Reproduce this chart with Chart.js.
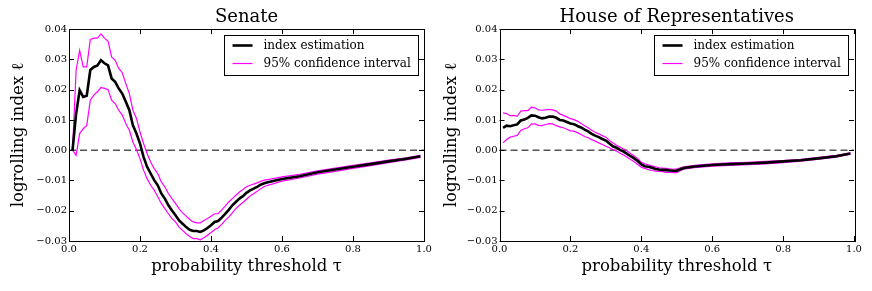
<!DOCTYPE html>
<html><head><meta charset="utf-8">
<title>logrolling index</title>
<script src="https://cdn.jsdelivr.net/npm/chart.js@4.4.7/dist/chart.umd.min.js"></script>
<style>
html,body{margin:0;padding:0;background:#fff}
.row{width:872px;height:291px;display:flex}
.panel{width:436px;height:291px;position:relative}
</style></head><body>
<div class="row">
  <div class="panel"><canvas id="senate" width="436" height="291"></canvas></div>
  <div class="panel"><canvas id="house" width="436" height="291"></canvas></div>
</div>
<script>
// values (probability threshold tau on x)
var X_TICKS = [0.0, 0.2, 0.4, 0.6, 0.8, 1.0];
var Y_TICKS = [-0.03, -0.02, -0.01, 0.00, 0.01, 0.02, 0.03, 0.04];
var LABELS = ['index estimation', '95% confidence interval'];

// Senate
var senateTau = [
  0.01,0.02,0.03,0.04,0.05,0.06,0.07,0.08,0.09,0.10,
  0.11,0.12,0.13,0.14,0.15,0.16,0.17,0.18,0.19,0.20,
  0.21,0.22,0.23,0.24,0.25,0.26,0.27,0.28,0.29,0.30,
  0.31,0.32,0.33,0.34,0.35,0.36,0.37,0.38,0.39,0.40,
  0.41,0.42,0.43,0.44,0.45,0.46,0.47,0.48,0.49,0.50,
  0.51,0.52,0.53,0.54,0.55,0.56,
  0.60,0.65,0.70,0.75,0.80,0.85,0.90,0.95,0.99
];
var senateIndex = [
  0.0, 0.012, 0.0198, 0.0176, 0.018, 0.0265, 0.0275, 0.028, 0.0297, 0.0287,
  0.028, 0.0237, 0.0226, 0.0204, 0.0187, 0.016, 0.0132, 0.0082, 0.0055, 0.0022,
  -0.0022, -0.0055, -0.0077, -0.0099, -0.0116, -0.0143, -0.016, -0.0182, -0.0199, -0.0215,
  -0.0232, -0.0243, -0.0254, -0.0263, -0.0267, -0.0267, -0.027, -0.0265, -0.0257, -0.0248,
  -0.0237, -0.0234, -0.0223, -0.021, -0.0197, -0.0182, -0.0171, -0.016, -0.0152, -0.0141,
  -0.0133, -0.0127, -0.0121, -0.0114, -0.0109, -0.0106,
  -0.0095, -0.0086, -0.0073, -0.0064, -0.0055, -0.0046, -0.0037, -0.0028, -0.002
];
var senateUpper = [
  0.0, 0.0264, 0.033, 0.0275, 0.0275, 0.0366, 0.037, 0.037, 0.0384, 0.037,
  0.036, 0.0308, 0.0297, 0.027, 0.0256, 0.022, 0.0187, 0.0132, 0.0105, 0.006,
  0.0022, -0.0011, -0.0039, -0.0061, -0.0077, -0.0105, -0.0121, -0.0143, -0.016, -0.0176,
  -0.0193, -0.0207, -0.0218, -0.0229, -0.0237, -0.024, -0.024, -0.0232, -0.0226, -0.0218,
  -0.021, -0.021, -0.0197, -0.0185, -0.0171, -0.016, -0.0149, -0.0138, -0.013, -0.0121,
  -0.0116, -0.0112, -0.0108, -0.0103, -0.0099, -0.0097,
  -0.0088, -0.008, -0.0068, -0.0059, -0.005, -0.0042, -0.0033, -0.0025, -0.0017
];
var senateLower = [
  0.0, -0.0017, 0.0055, 0.0071, 0.0082, 0.0165, 0.0182, 0.0193, 0.0207, 0.0204,
  0.02, 0.0165, 0.0154, 0.0132, 0.0116, 0.0088, 0.0066, 0.0027, 0.0002, -0.0028,
  -0.0066, -0.0094, -0.0116, -0.0132, -0.0154, -0.0176, -0.0193, -0.021, -0.0226, -0.0237,
  -0.0254, -0.0265, -0.0276, -0.0285, -0.0292, -0.0292, -0.0296, -0.0289, -0.0281, -0.0272,
  -0.0263, -0.0256, -0.0245, -0.0232, -0.0221, -0.0207, -0.0193, -0.0182, -0.0173, -0.0162,
  -0.0151, -0.0144, -0.0136, -0.0127, -0.012, -0.0116,
  -0.0102, -0.0092, -0.0079, -0.007, -0.006, -0.0051, -0.0041, -0.0032, -0.0024
];

// House of Representatives
var houseTau = [
  0.01,0.02,0.03,0.04,0.05,0.06,0.07,0.08,0.09,0.10,
  0.11,0.12,0.13,0.14,0.15,0.16,0.17,0.18,0.19,0.20,
  0.21,0.22,0.23,0.24,0.25,0.26,0.27,0.28,0.29,0.30,
  0.31,0.32,0.33,0.34,0.35,0.36,0.37,0.38,0.39,0.40,
  0.41,0.42,0.43,0.44,0.45,0.46,0.47,0.48,0.49,0.50,
  0.51,0.52,
  0.55,0.60,0.65,0.70,0.75,0.80,0.85,0.90,0.95,0.99
];
var houseIndex = [
  0.0074, 0.0081, 0.0079, 0.0082, 0.0085, 0.0098, 0.0101, 0.0107, 0.0115, 0.0114,
  0.0109, 0.0105, 0.0107, 0.0111, 0.0111, 0.0107, 0.01, 0.0098, 0.0093, 0.0088,
  0.0086, 0.008, 0.0075, 0.0068, 0.0062, 0.0054, 0.0048, 0.0043, 0.0037, 0.0032,
  0.0022, 0.0013, 0.0008, 0.0001, -0.0005, -0.0012, -0.002, -0.0027, -0.0036, -0.0047,
  -0.0053, -0.0055, -0.0058, -0.0062, -0.0064, -0.0065, -0.0066, -0.0067, -0.0068, -0.0068,
  -0.0063, -0.0059,
  -0.0054, -0.0049, -0.0046, -0.0044, -0.0041, -0.0037, -0.0033, -0.0027, -0.002, -0.0011
];
var houseUpper = [
  0.0123, 0.0121, 0.0114, 0.0115, 0.0112, 0.0129, 0.0131, 0.0131, 0.0142, 0.014,
  0.0133, 0.0132, 0.0133, 0.0135, 0.0133, 0.0129, 0.012, 0.0115, 0.011, 0.0104,
  0.0101, 0.0096, 0.0088, 0.0081, 0.0074, 0.0066, 0.0059, 0.0054, 0.0048, 0.0043,
  0.0032, 0.0024, 0.0016, 0.001, 0.0004, -0.0003, -0.0011, -0.0019, -0.0027, -0.004,
  -0.0045, -0.0048, -0.0052, -0.0055, -0.0058, -0.0059, -0.006, -0.0062, -0.0063, -0.0062,
  -0.0058, -0.0055,
  -0.005, -0.0045, -0.0042, -0.004, -0.0037, -0.0034, -0.003, -0.0024, -0.0017, -0.0009
];
var houseLower = [
  0.0024, 0.0035, 0.0043, 0.0046, 0.0049, 0.0065, 0.0071, 0.0074, 0.0087, 0.0087,
  0.0082, 0.0081, 0.0085, 0.0088, 0.0087, 0.0081, 0.0077, 0.0074, 0.0069, 0.0064,
  0.0063, 0.0058, 0.0052, 0.0045, 0.0041, 0.0035, 0.003, 0.0024, 0.0019, 0.0013,
  0.0008, 0.0002, -0.0003, -0.001, -0.0016, -0.0023, -0.0031, -0.0038, -0.0047, -0.0056,
  -0.006, -0.0064, -0.0067, -0.0069, -0.007, -0.0071, -0.0073, -0.0073, -0.0074, -0.0074,
  -0.0068, -0.0063,
  -0.0058, -0.0053, -0.005, -0.0048, -0.0045, -0.0041, -0.0036, -0.003, -0.0023, -0.0013
];

var SERIF = '"DejaVu Serif", "Liberation Serif", serif';

function pts(xs, ys) {
  return xs.map(function(x, i) { return {x: x, y: ys[i]}; });
}

function fmtY(v) {
  if (Math.abs(v) < 1e-9) return '0.00';
  var s = v.toFixed(2);
  return s.replace('-', '\u2212');
}

// frame, inward ticks and the legend box (matplotlib look)
var frame = {
  id: 'frame',
  afterDatasetsDraw: function(chart) {
    var a = chart.chartArea, c = chart.ctx;
    var xs = chart.scales.x, ys = chart.scales.y;
    c.save();
    c.strokeStyle = '#000';
    c.lineWidth = 1;
    c.beginPath();
    X_TICKS.forEach(function(t) {
      var px = Math.round(xs.getPixelForValue(t)) + 0.5;
      c.moveTo(px, a.bottom); c.lineTo(px, a.bottom - 5);
      c.moveTo(px, a.top); c.lineTo(px, a.top + 5);
    });
    Y_TICKS.forEach(function(t) {
      var py = Math.round(ys.getPixelForValue(t)) + 0.5;
      c.moveTo(a.left, py); c.lineTo(a.left + 5, py);
      c.moveTo(a.right, py); c.lineTo(a.right - 5, py);
    });
    c.stroke();
    c.strokeRect(Math.round(a.left) + 0.5, Math.round(a.top) + 0.5,
                 Math.round(a.right - a.left), Math.round(a.bottom - a.top));

    // legend
    var w = 194, h = 40;
    var lx = Math.round(a.right) - 6 - w + 0.5, ly = Math.round(a.top) + 6 + 0.5;
    c.fillStyle = '#fff';
    c.fillRect(lx, ly, w, h);
    c.strokeRect(lx, ly, w, h);
    var ds = chart.data.datasets;
    var rows = [ds[0], ds[1]];
    c.font = '12px ' + SERIF;
    c.textBaseline = 'middle';
    rows.forEach(function(d, i) {
      var yy = ly + 10 + i * 18;
      c.strokeStyle = d.borderColor;
      c.lineWidth = d.borderWidth;
      c.beginPath(); c.moveTo(lx + 8, yy); c.lineTo(lx + 28, yy); c.stroke();
      c.fillStyle = '#000';
      c.fillText(d.label, lx + 39, yy);
    });
    c.restore();
  }
};

function makeChart(id, title, tau, idx, up, lo, yw, padL, padR) {
  new Chart(document.getElementById(id), {
    type: 'line',
    data: {
      datasets: [
        {label: LABELS[0], data: pts(tau, idx), borderColor: '#000', borderWidth: 2.6, order: 1},
        {label: LABELS[1], data: pts(tau, up), borderColor: '#ff00ff', borderWidth: 1.2, order: 2},
        {label: '', data: pts(tau, lo), borderColor: '#ff00ff', borderWidth: 1.2, order: 2},
        {label: '', data: [{x: 0, y: 0}, {x: 1, y: 0}], borderColor: '#555', borderWidth: 1.6,
         borderDash: [7, 4], order: 3}
      ]
    },
    options: {
      responsive: false,
      animation: false,
      events: [],
      layout: {padding: {left: padL, right: padR, top: 0, bottom: 11}},
      elements: {point: {radius: 0}, line: {tension: 0, fill: false}},
      plugins: {
        legend: {display: false},
        tooltip: {enabled: false},
        title: {
          display: true, text: title, color: '#000', fullSize: false,
          font: {family: SERIF, size: 18, weight: 'normal'},
          padding: {top: 6.5, bottom: 1}
        }
      },
      scales: {
        x: {
          type: 'linear', min: 0, max: 1,
          grid: {display: false, drawTicks: false},
          border: {display: false},
          afterFit: function(s) { s.height = 39; },
          ticks: {
            stepSize: 0.2, padding: 2, color: '#000', maxRotation: 0,
            font: {family: SERIF, size: 10},
            callback: function(v) { return (+v).toFixed(1); }
          },
          title: {display: true, text: 'probability threshold \u03c4', color: '#000',
                  font: {family: SERIF, size: 16.5}, padding: {top: 0, bottom: 3}}
        },
        y: {
          type: 'linear', min: -0.03, max: 0.04,
          grid: {display: false, drawTicks: false},
          border: {display: false},
          afterFit: function(s) { s.width = yw; },
          ticks: {
            stepSize: 0.01, padding: 2, color: '#000', autoSkip: false,
            font: {family: SERIF, size: 10},
            callback: function(v) { return fmtY(v); }
          },
          title: {display: true, text: 'logrolling index \u2113', color: '#000',
                  font: {family: SERIF, size: 16.5}, padding: {top: 4, bottom: 0}}
        }
      }
    },
    plugins: [frame]
  });
}

makeChart('senate', 'Senate', senateTau, senateIndex, senateUpper, senateLower, 64, 5, 12);
makeChart('house', 'House of Representatives', houseTau, houseIndex, houseUpper, houseLower, 62, 1.5, 18);
</script>
</body></html>
